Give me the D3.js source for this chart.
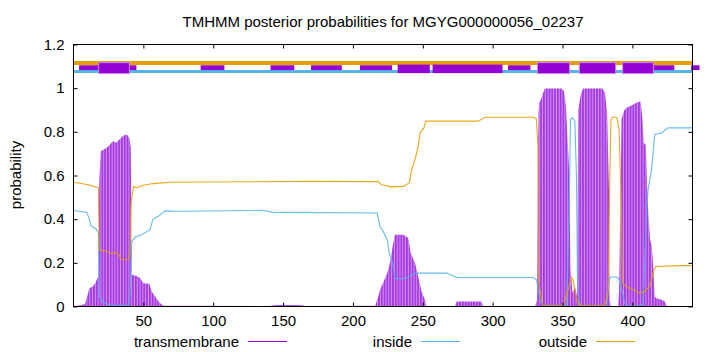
<!DOCTYPE html>
<head>
  <meta charset="utf-8">
  <script src="https://d3js.org/d3.v7.min.js"></script>
  <style>
    body {
      margin: 0;
      background: #fff;
      font-family: "Liberation Sans", Arial, sans-serif;
    }
    svg text {
      font-size: 15px;
      fill: #000;
    }
    .axis path.domain {
      display: none;
    }
    .axis line {
      stroke: #000;
    }
  </style>
</head>

<body>
  <div id="chart"></div>

  <script>
    // posterior probabilities as [residue, probability]
    var tmProb = [[0,0.002],[4.7,0.006],[8.3,0.012],[11.4,0.084],[13.8,0.092],[15.5,0.107],[17.8,0.138],
      [18.5,0.581],[19.5,0.711],[22.6,0.722],[25,0.734],[28.1,0.757],[30.5,0.75],[32.9,0.765],[35.7,0.783],
      [38.1,0.788],[40,0.772],[41,0.727],[41.7,0.145],[45.3,0.14],[47.6,0.13],[50,0.107],[54.3,0.104],
      [56,0.069],[59.1,0.039],[61.5,0.018],[63.9,0.005],[65,0.003],[90,0.003],[140,0.002],[145,0.007],
      [162,0.007],[166,0.002],[216,0.004],[218.1,0.046],[219.3,0.077],[221.7,0.11],[224.5,0.153],
      [226.5,0.199],[228.4,0.275],[230,0.329],[236,0.329],[239.6,0.314],[241.3,0.245],[244.4,0.199],
      [246.7,0.138],[249.1,0.069],[251.5,0.031],[252.5,0.002],[273,0.002],[274.2,0.023],[292,0.023],
      [293,0.002],[330.5,0.002],[331.7,0.03],[332.8,0.887],[333.3,0.933],[334.5,0.948],[335.7,0.971],
      [337.3,0.999],[349.3,0.999],[351.1,0.986],[352.4,0.917],[354.7,0.627],[355.7,0.183],[357.1,0.061],
      [358.8,0.092],[360.5,0.046],[361.2,0.9],[363,0.97],[364.7,0.999],[378.6,0.999],[380.3,0.979],
      [381.9,0.887],[383.4,0.49],[383.8,0.03],[384.5,0],[389.8,0],[390.5,0.077],[392.2,0.856],
      [393.8,0.894],[395.7,0.91],[399.3,0.921],[402.9,0.933],[405.8,0.94],[407.2,0.856],[408.1,0.75],
      [409.6,0.74],[410.6,0.535],[411.4,0.428],[412.6,0.306],[413.7,0.283],[414.4,0.229],[416,0.046],
      [417.2,0.038],[420.8,0.031],[423.2,0.023],[424.8,0],[443,0]];

    var insideProb = [[0,0.44],[9.5,0.431],[11.4,0.398],[12.4,0.37],[16.2,0.355],[17.8,0.337],[18.5,0.046],
      [21.4,0.018],[26.2,0.006],[39.3,0.006],[40.5,0.061],[41.7,0.298],[44.1,0.318],[48.8,0.329],
      [54.8,0.352],[56.7,0.398],[60.7,0.413],[65.5,0.438],[73.9,0.436],[135.8,0.44],[143,0.431],
      [217.4,0.428],[219.3,0.367],[221.2,0.349],[224.5,0.306],[226,0.245],[228.4,0.199],[230,0.13],
      [233.6,0.126],[238.4,0.13],[244.3,0.153],[267,0.153],[274.2,0.133],[329,0.133],[331.4,0.122],
      [332.6,0.077],[333.8,0.031],[336.1,0.003],[352.9,0.003],[354.7,0.428],[355.7,0.856],[357.2,0.864],
      [358.8,0.849],[360,0.581],[360.7,0.122],[361.9,0.016],[363.5,0.002],[381.5,0.002],[383.4,0.122],
      [384.4,0.135],[389.1,0.135],[391,0.115],[392.9,0.061],[394.6,0.016],[395.5,0.003],[406.5,0.003],
      [407.7,0.016],[410.1,0.428],[411.2,0.535],[413.7,0.627],[416,0.788],[420.8,0.795],[425.5,0.818],
      [443,0.818]];

    var outsideProb = [[0,0.569],[10.7,0.558],[17.8,0.543],[18.5,0.26],[23.8,0.252],[27.4,0.242],
      [29.8,0.248],[32.9,0.237],[33.8,0.214],[39.3,0.214],[40.5,0.245],[41.2,0.474],[42.9,0.55],
      [45.2,0.543],[48.8,0.554],[57.2,0.563],[69,0.569],[169,0.573],[218,0.572],[220.5,0.558],
      [227.7,0.548],[236,0.55],[240.3,0.566],[242,0.627],[244.4,0.673],[246.7,0.734],[248,0.795],
      [250.8,0.818],[252.2,0.849],[289.7,0.849],[294.4,0.867],[329,0.867],[331.2,0.86],[332.4,0.734],
      [332.8,0.122],[335,0.03],[336.1,0.003],[350.4,0.003],[353.3,0.061],[356.4,0.133],[357.6,0.122],
      [360,0.03],[362.4,0.003],[380,0.003],[382.6,0.061],[383.8,0.581],[384.6,0.856],[386.2,0.869],
      [389,0.864],[390.5,0.81],[391.5,0.581],[392.2,0.428],[392.9,0.107],[395.8,0.089],[400.5,0.077],
      [405.3,0.061],[408.9,0.069],[412.4,0.092],[415.3,0.165],[416.7,0.183],[433.9,0.187],[443,0.187]];

    // topology strip above the curves: [start, end]
    var stripThin = [[4,45],[91,108],[141,158],[170,192],[205,228],[311,327],[415,430],[442,448]];
    var stripWide = [[232,255],[257,307]];
    var helices = [[18,40],[332,355],[362,388],[393,415]];

    var xTicks = [50, 100, 150, 200, 250, 300, 350, 400];
    var yTicks = [0, 0.2, 0.4, 0.6, 0.8, 1, 1.2];
    var seqLength = 443;

    var legendNames = ["transmembrane", "inside", "outside"];
    var colors = {tm: "#9400d3", inside: "#56b4e9", outside: "#e69f00"};

    var width = 720, height = 352;
    var plot = {left: 73.5, right: 692.5, top: 44.5, bottom: 306.5};

    var svg = d3.select("#chart").append("svg")
      .attr("width", width)
      .attr("height", height);

    var x = d3.scaleLinear().domain([0, seqLength]).range([plot.left, plot.right]);
    var y = d3.scaleLinear().domain([0, 1.2]).range([plot.bottom, plot.top]);

    // stripes so the area looks like gnuplot impulses
    var step = x(2) - x(0);
    var pat = svg.append("defs").append("pattern")
      .attr("id", "impulses")
      .attr("patternUnits", "userSpaceOnUse")
      .attr("x", plot.left)
      .attr("width", step)
      .attr("height", 10);
    pat.append("rect").attr("width", step).attr("height", 10).attr("fill", "#d194f0");
    pat.append("rect").attr("width", step * 0.62).attr("height", 10).attr("fill", "#a536e2");

    // topology strip
    var strip = svg.append("g");
    strip.append("line")
      .attr("x1", x(0)).attr("x2", x(seqLength))
      .attr("y1", y(1.115)).attr("y2", y(1.115))
      .attr("stroke", colors.outside).attr("stroke-width", 4);
    strip.append("line")
      .attr("x1", x(0)).attr("x2", x(seqLength))
      .attr("y1", y(1.076)).attr("y2", y(1.076))
      .attr("stroke", colors.inside).attr("stroke-width", 3);
    strip.selectAll("rect.thin")
        .data(stripThin)
      .enter().append("rect")
        .attr("class", "thin")
        .attr("x", function(d) { return x(d[0]); })
        .attr("width", function(d) { return x(d[1]) - x(d[0]); })
        .attr("y", y(1.105))
        .attr("height", y(1.083) - y(1.105))
        .attr("fill", colors.tm);
    strip.selectAll("rect.wide")
        .data(stripWide)
      .enter().append("rect")
        .attr("class", "wide")
        .attr("x", function(d) { return x(d[0]); })
        .attr("width", function(d) { return x(d[1]) - x(d[0]); })
        .attr("y", y(1.108))
        .attr("height", y(1.069) - y(1.108))
        .attr("fill", colors.tm);
    strip.selectAll("rect.helix")
        .data(helices)
      .enter().append("rect")
        .attr("class", "helix")
        .attr("x", function(d) { return x(d[0]); })
        .attr("width", function(d) { return x(d[1]) - x(d[0]); })
        .attr("y", y(1.117))
        .attr("height", y(1.067) - y(1.117))
        .attr("fill", colors.tm)
        .attr("stroke", "#c98be8")
        .attr("stroke-width", 1);

    // transmembrane impulses
    var area = d3.area()
      .x(function(d) { return x(d[0]); })
      .y0(y(0))
      .y1(function(d) { return y(d[1]); });
    svg.append("path")
      .datum(tmProb)
      .attr("d", area)
      .attr("fill", "url(#impulses)");

    var line = d3.line()
      .x(function(d) { return x(d[0]); })
      .y(function(d) { return y(d[1]); });
    svg.append("path")
      .datum(insideProb)
      .attr("d", line)
      .attr("fill", "none")
      .attr("stroke", colors.inside)
      .attr("stroke-width", 1.1)
      .attr("opacity", 0.9);
    svg.append("path")
      .datum(outsideProb)
      .attr("d", line)
      .attr("fill", "none")
      .attr("stroke", colors.outside)
      .attr("stroke-width", 1.1)
      .attr("opacity", 0.9);

    // axes, ticks pointing inward and mirrored
    var fmt = function(d) { return String(+d.toFixed(1)); };
    svg.append("g").attr("class", "axis")
      .attr("transform", "translate(0," + plot.bottom + ")")
      .call(d3.axisBottom(x).tickValues(xTicks).tickSizeInner(-4).tickSizeOuter(0).tickPadding(9))
      .selectAll("text").style("font-family", "inherit").style("font-size", "15px");
    svg.append("g").attr("class", "axis")
      .attr("transform", "translate(0," + plot.top + ")")
      .call(d3.axisTop(x).tickValues(xTicks).tickSizeInner(-4).tickSizeOuter(0).tickFormat(""));
    svg.append("g").attr("class", "axis")
      .attr("transform", "translate(" + plot.left + ",0)")
      .call(d3.axisLeft(y).tickValues(yTicks).tickSizeInner(-4).tickSizeOuter(0).tickPadding(9).tickFormat(fmt))
      .selectAll("text").style("font-family", "inherit").style("font-size", "15px");
    svg.append("g").attr("class", "axis")
      .attr("transform", "translate(" + plot.right + ",0)")
      .call(d3.axisRight(y).tickValues(yTicks).tickSizeInner(-4).tickSizeOuter(0).tickFormat(""));

    svg.append("rect")
      .attr("x", plot.left).attr("y", plot.top)
      .attr("width", plot.right - plot.left).attr("height", plot.bottom - plot.top)
      .attr("fill", "none")
      .attr("stroke", "#000")
      .attr("stroke-width", 1);

    svg.append("text")
      .attr("x", 383)
      .attr("y", 27)
      .attr("text-anchor", "middle")
      .text("TMHMM posterior probabilities for MGYG000000056_02237");

    svg.append("text")
      .attr("transform", "translate(21,175) rotate(-90)")
      .attr("text-anchor", "middle")
      .text("probability");

    // legend along the bottom
    var legendEnds = [239, 412, 587];
    var legendColors = [colors.tm, colors.inside, colors.outside];
    var legend = svg.selectAll("g.legend")
        .data(legendNames)
      .enter().append("g")
        .attr("class", "legend")
        .attr("transform", function(d, i) { return "translate(" + legendEnds[i] + ",341.5)"; });
    legend.append("text")
      .attr("text-anchor", "end")
      .attr("dy", "0.35em")
      .text(function(d) { return d; });
    legend.append("line")
      .attr("x1", 9).attr("x2", 48)
      .attr("stroke", function(d, i) { return legendColors[i]; })
      .attr("stroke-width", 1);
  </script>
</body>
